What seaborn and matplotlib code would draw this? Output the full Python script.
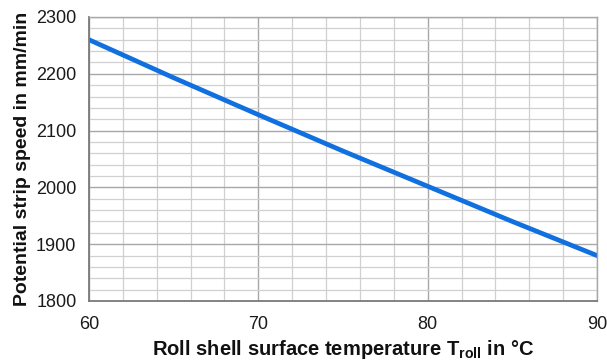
import matplotlib
matplotlib.use("Agg")
import matplotlib.pyplot as plt
import seaborn as sns
import pandas as pd
from matplotlib.ticker import MultipleLocator

temperature = [60, 65, 70, 75, 80, 85, 90]
strip_speed = [2260, 2193, 2128, 2064, 2002, 1940, 1880]
x_ticks = [60, 70, 80, 90]
y_ticks = [1800, 1900, 2000, 2100, 2200, 2300]

sns.set_theme(style="white")
plt.rcParams['font.family'] = ['Liberation Sans', 'DejaVu Sans']

df = pd.DataFrame({"T": temperature, "v": strip_speed})

fig = plt.figure(figsize=(6.07, 3.6), dpi=100)
ax = fig.add_axes([0.1466, 0.1639, 0.9835 - 0.1466, 0.9528 - 0.1639])

sns.lineplot(data=df, x="T", y="v", ax=ax, color="#1170e0", linewidth=3.4)

ax.set_xlim(60, 90)
ax.set_ylim(1800, 2300)
ax.set_xticks(x_ticks)
ax.set_yticks(y_ticks)
ax.xaxis.set_minor_locator(MultipleLocator(2))
ax.yaxis.set_minor_locator(MultipleLocator(20))
ax.grid(which="major", color="#a8a8a8", linewidth=1.0)
ax.grid(which="minor", color="#d0d0d0", linewidth=0.9)
ax.set_axisbelow(True)
ax.tick_params(which="both", length=0)
ax.tick_params(axis="x", pad=11, labelsize=13, labelcolor="#1a1a1a")
ax.tick_params(axis="y", pad=9, labelsize=13, labelcolor="#1a1a1a")

for s in ["top", "right"]:
    ax.spines[s].set_color("#a8a8a8")
    ax.spines[s].set_linewidth(1.0)
for s in ["left", "bottom"]:
    ax.spines[s].set_color("#7a7a7a")
    ax.spines[s].set_linewidth(1.3)

ax.set_xlabel("Roll shell surface temperature T$_\\mathregular{roll}$ in °C",
              fontsize=14.5, fontweight="bold", color="#111111")
ax.xaxis.set_label_coords(0.5, -0.13)
ax.set_ylabel("Potential strip speed in mm/min",
              fontsize=14, fontweight="bold", color="#111111")
ax.yaxis.set_label_coords(-0.115, 0.5)

fig.savefig("out.png", dpi=100)
